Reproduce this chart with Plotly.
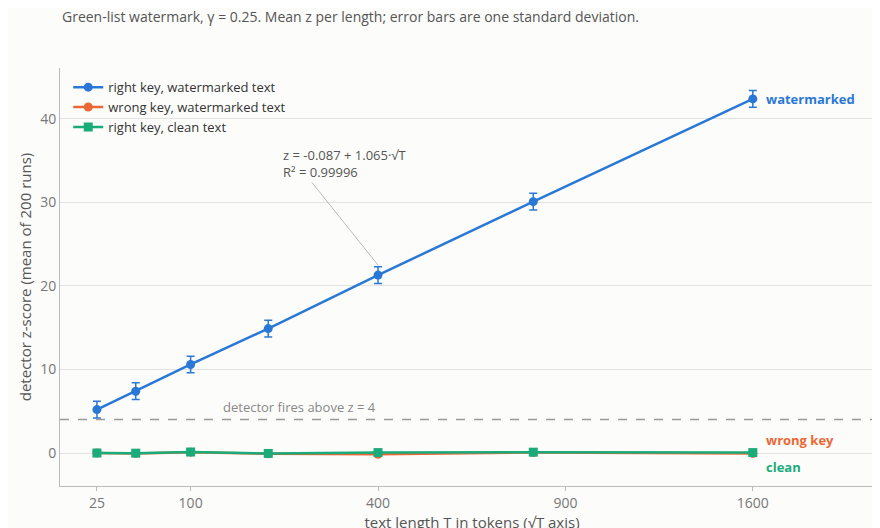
import numpy as np
import plotly.graph_objects as go

tokens = [25, 50, 100, 200, 400, 800, 1600]
z_right = [5.2, 7.4, 10.6, 14.9, 21.3, 30.1, 42.4]
sd_right = [1.0, 1.0, 1.0, 1.0, 1.0, 1.0, 1.0]
z_wrong = [0.0, -0.05, 0.1, -0.1, -0.15, 0.05, -0.05]
z_clean = [0.0, -0.02, 0.12, -0.05, 0.05, 0.1, 0.05]
tick_labels = [25, 100, 400, 900, 1600]

x = np.sqrt(tokens)
blue, orange, green = "#2a78d6", "#eb6834", "#1aab7a"

fig = go.Figure()
fig.add_trace(go.Scatter(x=x, y=z_right, mode="lines+markers", name="right key, watermarked text",
                         line=dict(color=blue, width=2.5), marker=dict(size=9, color=blue),
                         error_y=dict(type="data", array=sd_right, color=blue, thickness=1.5, width=4)))
fig.add_trace(go.Scatter(x=x, y=z_wrong, mode="lines+markers", name="wrong key, watermarked text",
                         line=dict(color=orange, width=2.5), marker=dict(size=9, color=orange)))
fig.add_trace(go.Scatter(x=x, y=z_clean, mode="lines+markers", name="right key, clean text",
                         line=dict(color=green, width=2.5), marker=dict(size=9, color=green, symbol="square")))

fig.add_hline(y=4, line=dict(color="#999", dash="dash", width=1.5))
fig.add_annotation(x=np.sqrt(400), y=4, text="detector fires above z = 4", showarrow=False,
                   xanchor="right", yanchor="bottom", yshift=2, font=dict(size=13, color="#888"))
fig.add_annotation(x=np.sqrt(400), y=z_right[4] + 1.2, ax=np.sqrt(220), ay=37, axref="x", ayref="y",
                   text="z = -0.087 + 1.065·√T<br>R² = 0.99996", align="left", xanchor="left", yanchor="top",
                   showarrow=True, arrowhead=0, arrowcolor="#bbb", arrowwidth=1,
                   font=dict(size=13, color="#555"))
for txt, yv, col in [("watermarked", 42.4, blue), ("wrong key", 1.6, orange), ("clean", -1.7, green)]:
    fig.add_annotation(x=40.6, y=yv, text=f"<b>{txt}</b>", showarrow=False, xanchor="left",
                       font=dict(size=13, color=col))
fig.add_annotation(xref="paper", yref="paper", x=-0.0, y=1.145, xanchor="left", yanchor="bottom",
                   text="<b>Hold the key and detection is just counting</b>", showarrow=False,
                   font=dict(size=19, color="#111"))
fig.add_annotation(xref="paper", yref="paper", x=-0.0, y=1.095, xanchor="left", yanchor="bottom",
                   text="Green-list watermark, γ = 0.25. Mean z per length; error bars are one standard deviation.",
                   showarrow=False, font=dict(size=14, color="#555"))

fig.update_layout(
    width=880, height=528, paper_bgcolor="#fcfcfb", plot_bgcolor="#fcfcfb",
    font=dict(family="Open Sans", color="#555"),
    margin=dict(l=52, r=4, t=60, b=50, autoexpand=False),
    legend=dict(x=0.01, y=0.99, bgcolor="rgba(0,0,0,0)", font=dict(size=13, color="#333")),
    xaxis=dict(range=[3.03, 47], tickvals=np.sqrt(tick_labels), ticktext=[str(t) for t in tick_labels],
               showgrid=False, showline=True, linecolor="#bbb", zeroline=False, automargin=False,
               title=dict(text="text length T in tokens (√T axis)", font=dict(size=15), standoff=6),
               tickfont=dict(size=14, color="#777"), ticks="outside", ticklen=4, tickcolor="#bbb"),
    yaxis=dict(range=[-3.95, 46.1], tickvals=[0, 10, 20, 30, 40], gridcolor="#e2e2e2", zeroline=False,
               showline=True, linecolor="#bbb", automargin=False,
               title=dict(text="detector z-score (mean of 200 runs)", font=dict(size=15), standoff=4),
               tickfont=dict(size=14, color="#777")),
)
fig.write_html("out.html")
